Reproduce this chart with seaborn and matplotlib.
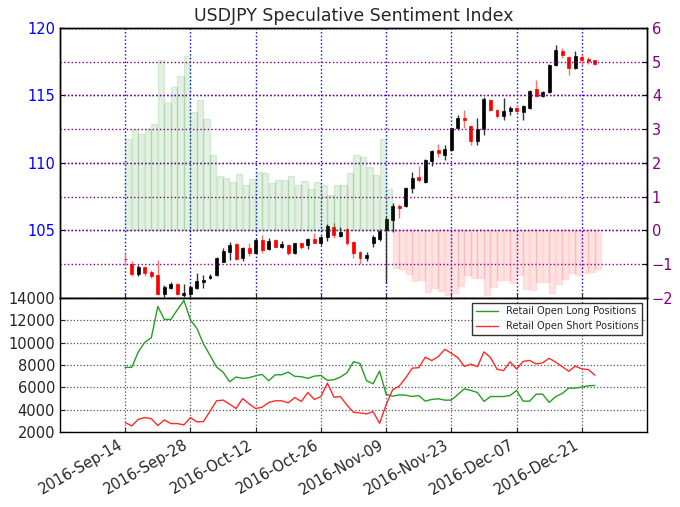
import numpy as np
import pandas as pd
import matplotlib
matplotlib.use("Agg")
import matplotlib.pyplot as plt
import seaborn as sns

# ---------------- data ----------------
dates = pd.bdate_range("2016-09-14", "2016-12-23")
first_pos = 10  # trading-day index of the first date (axis starts 10 trading days earlier)

opens = [102.90, 102.48, 101.73, 102.25, 101.88, 101.68, 100.27, 100.74, 100.99, 100.20,
         100.25, 100.74, 101.14, 101.44, 101.68, 102.67, 103.42, 103.96, 102.97, 103.67,
         103.34, 104.28, 103.59, 104.28, 103.79, 103.91, 103.29, 104.04, 103.91, 104.33,
         104.09, 104.53, 105.22, 104.58, 105.07, 104.16, 103.42, 102.92, 104.09, 104.33,
         105.00, 105.77, 106.83, 106.83, 108.12, 108.98, 108.61, 110.15, 110.96, 110.59,
         110.96, 112.57, 113.32, 112.70, 111.63, 112.50, 114.68, 113.94, 113.51, 113.86,
         114.06, 113.76, 114.06, 115.47, 114.98, 115.22, 117.28, 118.32, 117.82, 117.03,
         117.82, 117.70, 117.60]
highs = [103.30, 102.72, 102.43, 102.38, 102.03, 102.80, 100.94, 101.19, 101.06, 101.00,
         100.94, 101.80, 101.68, 101.78, 103.00, 103.71, 104.16, 104.03, 103.79, 104.09,
         104.41, 104.66, 104.46, 104.33, 104.21, 103.96, 104.09, 104.16, 104.46, 104.83,
         104.58, 105.45, 105.57, 105.22, 105.15, 104.24, 103.49, 103.42, 104.66, 105.07,
         105.95, 107.00, 106.93, 108.24, 109.31, 109.73, 110.30, 110.96, 111.41, 111.34,
         112.62, 113.56, 113.94, 112.82, 113.32, 114.85, 114.75, 114.01, 114.80, 114.19,
         114.26, 114.31, 115.42, 116.16, 115.35, 117.33, 118.71, 118.51, 117.90, 118.27,
         118.02, 117.82, 117.65]
lows = [102.45, 101.63, 101.63, 101.63, 101.49, 100.20, 100.07, 100.64, 100.20, 100.07,
        100.07, 100.64, 100.74, 101.39, 101.63, 102.62, 102.80, 102.80, 102.72, 103.12,
        103.24, 103.29, 103.54, 103.74, 103.71, 103.17, 103.24, 103.59, 103.61, 104.03,
        103.91, 104.23, 104.41, 104.48, 103.91, 102.92, 102.50, 102.75, 103.79, 104.23,
        101.10, 104.90, 105.94, 106.76, 107.75, 108.61, 108.54, 109.78, 110.47, 110.22,
        110.91, 112.45, 112.57, 111.34, 111.34, 112.08, 113.86, 113.32, 113.19, 113.56,
        113.69, 113.19, 114.01, 114.88, 114.85, 115.17, 117.20, 117.77, 116.53, 116.98,
        117.28, 117.33, 117.23]
closes = [102.85, 101.73, 102.25, 101.81, 101.63, 100.27, 100.82, 101.01, 100.25, 100.37,
          100.82, 101.24, 101.31, 101.63, 102.92, 103.47, 103.91, 102.87, 103.66, 103.30,
          104.28, 103.54, 104.24, 103.79, 103.99, 103.29, 104.04, 103.79, 104.33, 104.09,
          104.53, 105.32, 104.66, 104.90, 104.04, 103.34, 102.97, 103.17, 104.53, 104.98,
          105.85, 106.83, 106.63, 108.17, 108.91, 108.74, 110.22, 110.89, 110.72, 111.01,
          112.57, 113.32, 113.19, 111.63, 112.50, 114.75, 113.94, 113.44, 113.86, 114.06,
          113.81, 114.18, 115.35, 114.98, 115.25, 117.28, 118.39, 117.97, 117.03, 117.90,
          117.62, 117.57, 117.35]

sentiment = [2.70, 3.00, 2.87, 3.00, 3.15, 5.05, 3.78, 4.24, 4.57, 5.17,
             3.52, 3.86, 3.31, 2.23, 1.62, 1.54, 1.43, 1.67, 1.35, 1.51,
             1.72, 1.70, 1.41, 1.48, 1.48, 1.61, 1.35, 1.45, 1.22, 1.43,
             1.35, 1.04, 1.33, 1.33, 1.69, 2.23, 2.16, 1.87, 1.64, 2.70,
             1.22, -1.12, -1.15, -1.29, -1.49, -1.47, -1.84, -1.71, -1.79, -1.93,
             -1.87, -1.64, -1.34, -1.41, -1.41, -1.93, -1.67, -1.47, -1.47, -1.57,
             -1.34, -1.74, -1.76, -1.52, -1.54, -1.86, -1.59, -1.44, -1.27, -1.34,
             -1.27, -1.24, -1.15]

long_pos = [7790, 7790, 9160, 10030, 10420, 13220, 12060, 12060, 12930, 13760,
            12030, 11250, 9880, 8870, 7820, 7370, 6510, 6930, 6810, 6870,
            7040, 7160, 6600, 7130, 7130, 7370, 6990, 6960, 6810, 7010,
            7070, 6630, 6690, 6930, 7310, 8300, 8130, 6600, 6330, 7460,
            5400, 5220, 5340, 5310, 5190, 5280, 4780, 4930, 4990, 4870,
            4870, 5370, 5880, 5730, 5550, 4750, 5190, 5190, 5190, 5280,
            5730, 4780, 4780, 5400, 5400, 4660, 5190, 5460, 5940, 5940,
            6030, 6150, 6180]
short_pos = [2870, 2570, 3160, 3310, 3220, 2600, 3100, 2780, 2780, 2660,
             3310, 2930, 2960, 3880, 4810, 4870, 4510, 4120, 5010, 4540,
             4120, 4240, 4660, 4810, 4810, 4630, 5100, 4750, 5550, 4930,
             5190, 6390, 5130, 5190, 4420, 3790, 3730, 3640, 3850, 2800,
             4450, 5800, 6120, 6850, 7720, 7760, 8700, 8400, 8750, 9400,
             9050, 8650, 7880, 8080, 7850, 9170, 8670, 7630, 7500, 8290,
             7650, 8320, 8410, 8100, 8200, 8600, 8250, 7860, 7440, 7900,
             7650, 7600, 7100]

title = "USDJPY Speculative Sentiment Index"
long_label = "Retail Open Long Positions"
short_label = "Retail Open Short Positions"

# ---------------- frame ----------------
x = first_pos + np.arange(len(dates))
df = pd.DataFrame({"x": x, "open": opens, "high": highs, "low": lows, "close": closes,
                   "sent": sentiment, "long": long_pos, "short": short_pos})

sns.set_style("ticks")
plt.rcParams["font.family"] = ["DejaVu Sans"]
plt.rcParams["xtick.direction"] = "in"
plt.rcParams["ytick.direction"] = "in"

fig = plt.figure(figsize=(6.8, 5.07), dpi=100)
ax1 = fig.add_axes([0.0882, 0.4128, 0.8633, 0.532])
ax3 = fig.add_axes([0.0882, 0.1473, 0.8633, 0.2655], sharex=ax1)
ax2 = ax1.twinx()

# candles
up = df["close"] >= df["open"]
for mask, col, wcol in [(up, "black", "#333333"), (~up, "red", "#ff7070")]:
    d = df[mask]
    ax1.vlines(d["x"], d["low"], d["high"], color=wcol, linewidth=1.0, zorder=3)
    body = (d["close"] - d["open"]).abs().clip(lower=0.04)
    ax1.bar(d["x"], body, bottom=np.minimum(d["open"], d["close"]), width=0.45,
            color=col, edgecolor=col, linewidth=0.5, zorder=4)

# sentiment bars
pos = df[df["sent"] > 0]
neg = df[df["sent"] <= 0]
ax2.bar(pos["x"], pos["sent"], width=0.95, align="edge",
        facecolor=(0.0, 0.5, 0.0, 0.11), edgecolor=(0.0, 0.5, 0.0, 0.12), linewidth=1)
ax2.bar(neg["x"], neg["sent"], width=0.95, align="edge",
        facecolor=(1.0, 0.0, 0.0, 0.11), edgecolor=(1.0, 0.0, 0.0, 0.09), linewidth=1)

ax1.set_xlim(0, 90)
ax1.set_ylim(100, 120)
ax1.set_yticks([105, 110, 115, 120])
ax2.set_ylim(-2, 6)
ax2.set_yticks(range(-2, 7))
ax1.grid(True, color="blue", linestyle=":", linewidth=1.0)
ax2.grid(True, axis="y", color="purple", linestyle=":", linewidth=1.0)
ax1.tick_params(axis="y", colors="black", labelcolor="blue", labelsize=10.5)
ax2.tick_params(axis="y", colors="black", labelcolor="purple", labelsize=10.5)
ax1.tick_params(axis="x", labelbottom=False)
ax1.set_title(title, fontsize=12.5, pad=5)

# positions
sns.lineplot(data=df, x="x", y="long", color="#22a022", linewidth=1.0,
             label=long_label, ax=ax3)
sns.lineplot(data=df, x="x", y="short", color="#ff2a2a", linewidth=1.0,
             label=short_label, ax=ax3)
ax3.set_ylim(2000, 14000)
ax3.set_yticks(range(2000, 14001, 2000))
ax3.set_xlabel("")
ax3.set_ylabel("")
ax3.grid(True, color="#555555", linestyle=":", linewidth=0.9)
tick_pos = list(range(10, 81, 10))
tick_lab = [dates[p - first_pos].strftime("%Y-%b-%d") for p in tick_pos]
ax3.set_xticks(tick_pos)
ax3.set_xticklabels(tick_lab, rotation=30, ha="right", fontsize=10.5)
ax3.tick_params(axis="y", labelsize=10.5)
ax3.set_xlim(0, 90)
leg = ax3.legend(loc="upper right", fontsize=7, frameon=True, fancybox=False,
                 handlelength=2.2, borderaxespad=0.5)
leg.get_frame().set_edgecolor("black")
leg.get_frame().set_linewidth(1.0)

for ax in (ax1, ax2, ax3):
    for s in ax.spines.values():
        s.set_color("black")
        s.set_linewidth(1.0)

fig.savefig("out.png", dpi=100)
